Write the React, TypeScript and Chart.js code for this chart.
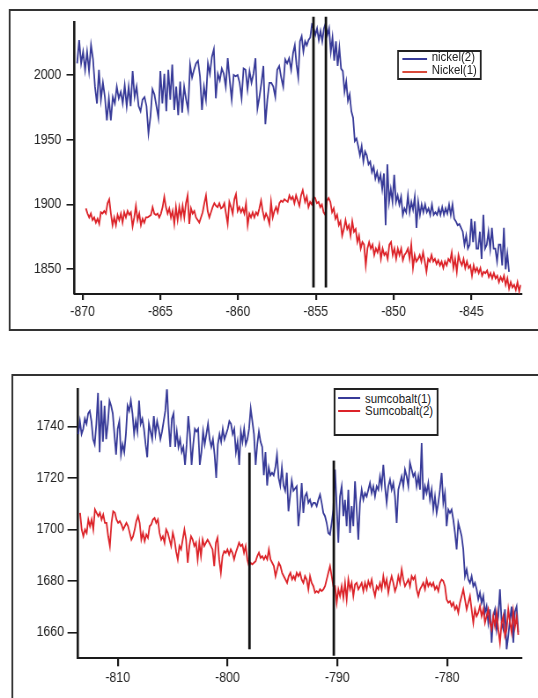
import React, { useEffect, useRef } from "react";
import { Chart, registerables } from "chart.js";

Chart.register(...registerables);

// ---------- data: top panel (nickel) ----------
const nickelXTicks = [-870, -865, -860, -855, -850, -845];
const nickelYTicks = [1850, 1900, 1950, 2000];
const nickelMarkerX = [-855.15, -854.35];
const nickelMarkerLow = [1836, 1836];
const nickelMarkerHigh = [2045, 2045];

// nickel(2), blue, first part: x from -870.35 to -856.46
const nickel2A = [
  2009, 2027, 2009, 2018, 2004, 2018, 2003, 2023, 2012, 1991, 1978, 2004, 1981, 1994, 1983, 1965,
  1982, 1965, 1983, 1978, 1991, 1982, 1987, 1978, 1992, 1976, 1991, 1976, 2003, 1983, 1991, 1976,
  1972, 1981, 1983, 1976, 1955, 1968, 1989, 1985, 1976, 1967, 2003, 1978, 2001, 1972, 2004, 1981,
  2008, 1973, 1991, 1969, 1995, 1971, 1991, 1981, 1973, 2008, 1998, 2004, 2009, 2011, 1999, 1973,
  1991, 1981, 2009, 2001, 2014, 2020, 1982, 2001, 1996, 2005, 2001, 1991, 2013, 1996, 1981, 2000,
  1999, 2000, 1994, 1982, 2005, 2004, 1989, 2003, 1994, 2001, 2013, 1974, 1983, 1994, 2007, 1962,
  1981, 1994, 1994, 1991, 1983, 2004, 2007, 1998, 1991, 2012, 2009, 2013, 2004, 2017,
];
const nickel2AX = [-870.35, -856.46];
// nickel(2), second part: x from -856.35 to -842.57
const nickel2B = [
  2023, 2008, 1998, 2026, 2030, 2018, 2026, 2023, 2027, 2029, 2039, 2036, 2031, 2036, 2027, 2034,
  2026, 2036, 2040, 2031, 2036, 2018, 2029, 2011, 2026, 2007, 2021, 2005, 2003, 1987, 1995, 1980,
  1985, 1972, 1967, 1949, 1951, 1945, 1938, 1945, 1933, 1941, 1938, 1931, 1933, 1925, 1929, 1920,
  1925, 1918, 1923, 1912, 1924, 1884, 1931, 1902, 1912, 1902, 1923, 1902, 1907, 1900, 1906, 1892,
  1897, 1894, 1907, 1894, 1902, 1896, 1906, 1882, 1902, 1892, 1900, 1894, 1900, 1894, 1897, 1892,
  1900, 1892, 1894, 1892, 1897, 1892, 1898, 1892, 1897, 1893, 1900, 1892, 1900, 1889, 1887, 1884,
  1885, 1882, 1879, 1869, 1876, 1866, 1869, 1889, 1871, 1887, 1866, 1866, 1879, 1858, 1892, 1866,
  1869, 1879, 1866, 1882, 1866, 1866, 1856, 1869, 1869, 1853, 1882, 1850, 1862, 1848,
];
const nickel2BX = [-856.35, -842.57];

// Nickel(1), red, first part: x from -869.79 to -855.84
const nickel1A = [
  1897, 1893, 1890, 1893, 1888, 1890, 1886, 1889, 1885, 1894, 1893, 1895, 1893, 1901, 1904, 1893,
  1884, 1890, 1884, 1892, 1888, 1893, 1886, 1894, 1890, 1895, 1892, 1894, 1883, 1890, 1899, 1888,
  1893, 1884, 1889, 1886, 1890, 1890, 1891, 1892, 1898, 1893, 1892, 1893, 1890, 1893, 1898, 1906,
  1898, 1893, 1897, 1890, 1895, 1885, 1898, 1888, 1898, 1890, 1899, 1890, 1901, 1907, 1885, 1897,
  1893, 1895, 1890, 1888, 1886, 1890, 1894, 1901, 1907, 1895, 1890, 1894, 1898, 1901, 1899, 1898,
  1901, 1897, 1898, 1901, 1893, 1885, 1902, 1898, 1893, 1904, 1908, 1895, 1898, 1894, 1897, 1893,
  1901, 1884, 1893, 1890, 1894, 1890, 1894, 1892, 1897, 1903, 1895, 1889, 1893, 1890, 1885, 1902,
  1890, 1895, 1898, 1894, 1901, 1903, 1902, 1904, 1903, 1902, 1907, 1904, 1906, 1901, 1907, 1903,
  1899, 1907, 1911,
];
const nickel1AX = [-869.79, -855.84];
// Nickel(1), second part: x from -855.69 to -841.81
const nickel1B = [
  1902, 1906, 1898, 1902, 1900, 1906, 1905, 1901, 1902, 1898, 1900, 1894, 1892, 1903, 1905, 1902,
  1894, 1897, 1889, 1892, 1884, 1887, 1876, 1881, 1888, 1881, 1884, 1876, 1887, 1879, 1881, 1871,
  1876, 1866, 1871, 1869, 1853, 1866, 1871, 1866, 1869, 1861, 1866, 1863, 1869, 1858, 1866, 1861,
  1863, 1858, 1869, 1871, 1861, 1866, 1858, 1866, 1861, 1866, 1857, 1861, 1863, 1866, 1858, 1869,
  1851, 1861, 1856, 1858, 1861, 1856, 1863, 1856, 1848, 1858, 1856, 1861, 1856, 1858, 1854, 1857,
  1853, 1856, 1851, 1856, 1853, 1858, 1856, 1863, 1851, 1858, 1848, 1861, 1856, 1853, 1858, 1851,
  1856, 1851, 1853, 1845, 1853, 1848, 1851, 1847, 1851, 1845, 1848, 1847, 1849, 1844, 1847, 1843,
  1847, 1843, 1845, 1840, 1844, 1841, 1845, 1838, 1843, 1835, 1840, 1836, 1838, 1834, 1840, 1833,
  1838,
];
const nickel1BX = [-855.69, -841.81];

// ---------- data: bottom panel (cobalt) ----------
const cobaltXTicks = [-810, -800, -790, -780];
const cobaltYTicks = [1660, 1680, 1700, 1720, 1740];
const cobaltMarkerX = [-798.0, -790.32];
const cobaltMarkerLow = [1653.4, 1650.9];
const cobaltMarkerHigh = [1729.8, 1726.7];

// sumcobalt(1), blue
const sumcobalt1A = [
  1737, 1742, 1737, 1739, 1743, 1741, 1745, 1746, 1742, 1735, 1733, 1741, 1753, 1730, 1750, 1734,
  1748, 1735, 1741, 1750, 1748, 1745, 1737, 1729, 1739, 1742, 1729, 1733, 1730, 1737, 1748, 1746,
  1750, 1745, 1737, 1742, 1738, 1750, 1741, 1743, 1739, 1733, 1728, 1741, 1738, 1735, 1744, 1737,
  1742, 1739, 1735, 1738, 1742, 1746, 1755, 1741, 1732, 1743, 1745, 1732, 1738, 1732, 1735, 1730,
  1732, 1725, 1733, 1744, 1737, 1725, 1733, 1739, 1738, 1739, 1725, 1730, 1738, 1733, 1737, 1741,
  1735, 1732, 1735, 1729, 1720, 1733, 1737, 1734, 1739, 1735, 1737, 1739, 1742, 1741, 1737, 1739,
  1730, 1734, 1725, 1738, 1734, 1739, 1733, 1735, 1739, 1747, 1742, 1737, 1725, 1733, 1738, 1734,
  1732, 1721, 1730, 1717, 1724, 1721, 1722, 1721, 1724, 1729, 1720, 1717, 1724, 1717, 1715, 1722,
  1707, 1713, 1719, 1715,
];
const sumcobalt1AX = [-813.59, -794.0];
const sumcobalt1B = [
  1716.7, 1701.2, 1707.7, 1718, 1706.4, 1712.8, 1714.1, 1710.3, 1711.5, 1709, 1710.3, 1710.3, 1709,
  1711.5, 1713.5, 1710.3, 1706.4, 1705.1, 1702.5, 1698.6, 1698, 1702.5, 1707.7, 1723.2, 1709, 1694.8,
  1712.8, 1716.7, 1705.1, 1711.5, 1701.2, 1715.4, 1698.6, 1709, 1701.2, 1718.7, 1707.7, 1696, 1710.3,
  1715.4, 1711.5, 1714.1, 1712.8, 1715.4, 1718, 1714.1, 1716.7, 1712.8, 1716.7, 1715.4, 1720.6, 1716.7,
  1725.1, 1716.7, 1710.3, 1716.7, 1719.3, 1715.4, 1718, 1712.8, 1702.5, 1715.4, 1718, 1720.6, 1716.7,
  1723.2, 1720.6, 1716.7, 1725.8, 1723.2, 1720.6, 1721.9, 1716.7, 1720.6, 1715.4, 1733.5, 1711.5,
  1716.7, 1714.1, 1718, 1711.5, 1715.4, 1707.7, 1712.8, 1706.4, 1710.3, 1715.4, 1721.9, 1710.3, 1714.1,
  1701.2, 1707.7, 1706.4, 1707.7, 1703.8, 1698.6, 1692.2, 1702.5, 1699.9, 1697.3, 1692.2, 1681.8,
  1684.4, 1680.5, 1679.2, 1681.8, 1677.9, 1679.2, 1676.7, 1672.8, 1675.4, 1671.5, 1674.1, 1667.6,
  1670.2, 1663.7, 1668.9, 1656, 1666.3, 1668.9, 1661.2, 1666.3, 1676.7, 1663.7, 1661.2, 1668.9, 1653.4,
  1658.6, 1665, 1670, 1656, 1668, 1670, 1660,
];
const sumcobalt1BX = [-793.7, -773.52];

// Sumcobalt(2), red
const sumcobalt2A = [
  1706.4, 1699.9, 1697.3, 1699.9, 1698.6, 1703.8, 1701.2, 1703.8, 1699.9, 1707.7, 1706.4, 1705.1,
  1706.4, 1703.8, 1705.7, 1702.5, 1702.5, 1697.3, 1693.5, 1702.5, 1707, 1706.4, 1703.8, 1702.5, 1703.2,
  1701.9, 1699.9, 1701.2, 1702.5, 1701.2, 1698.6, 1696, 1697.3, 1699.9, 1703.2, 1705.1, 1702.5, 1696,
  1698.6, 1695.4, 1698, 1696.7, 1701.2, 1701.9, 1703.8, 1704.4, 1702.5, 1703.8, 1698.6, 1696, 1697.3,
  1694.8, 1699.9, 1698.6, 1696, 1693.5, 1698.6, 1696, 1691.5, 1688.3, 1693.5, 1692.2, 1696, 1699.9,
  1696, 1687, 1693.5, 1697.3, 1696, 1693.5, 1694.8, 1688.3, 1694.8, 1689.6, 1696, 1693.5, 1694.8, 1696,
  1694.8, 1693.5, 1692.2, 1685.7, 1694.8, 1696.7, 1688.3, 1683.1, 1689.6, 1691.5, 1690.9, 1692.2,
  1690.2, 1692.2, 1690.9, 1688.3, 1690.9, 1692.8, 1694.8, 1693.5, 1694.1, 1690.9, 1693.5, 1688.3,
  1685.7, 1687, 1686.4, 1687, 1687.6, 1689.6, 1690.9, 1688.9, 1689.6, 1688.3, 1689.6, 1688.3, 1692.2,
  1688.3, 1687, 1685.7, 1681.8, 1684.4, 1687, 1685.7, 1683.1, 1681.8, 1680.5, 1679.2, 1681.8, 1683.1,
  1680.5, 1681.8,
];
const sumcobalt2AX = [-813.43, -793.97];
const sumcobalt2B = [
  1680.5, 1683.1, 1681.8, 1683.1, 1680.5, 1679.2, 1681.8, 1680.5, 1676.7, 1681.8, 1679.2, 1677.9,
  1675.4, 1676, 1675.4, 1676.7, 1676, 1676.7, 1677.9, 1680.5, 1683.1, 1685.7, 1681.8, 1677.9, 1677.9,
  1671.5, 1676.7, 1674.1, 1677.9, 1673.4, 1679.2, 1672.8, 1680.5, 1676.7, 1679.2, 1674.1, 1678.6,
  1679.2, 1676.7, 1677.9, 1679.2, 1676, 1679.2, 1676.7, 1679.9, 1677.9, 1680.5, 1676.7, 1674.1, 1677.9,
  1676.7, 1679.2, 1676.7, 1681.8, 1677.9, 1680.5, 1675.4, 1679.2, 1681.8, 1679.2, 1676, 1677.9, 1681.8,
  1679.2, 1684.4, 1680.5, 1677.9, 1679.2, 1680.5, 1677.9, 1681.8, 1680.5, 1681.8, 1676.7, 1674.1,
  1676.7, 1677.9, 1679.2, 1676.7, 1680.5, 1677.9, 1679.2, 1677.9, 1679.2, 1676.7, 1677.9, 1676, 1679.2,
  1680.5, 1679.9, 1677.9, 1672.8, 1671.5, 1672.1, 1670.2, 1671.5, 1668.9, 1670.2, 1667.6, 1671.5,
  1674.1, 1676.7, 1672.8, 1668.9, 1671.5, 1674.1, 1668.9, 1663.7, 1668.9, 1666.3, 1667.6, 1670.2,
  1666.3, 1668.9, 1663.7, 1666.3, 1668.9, 1663.7, 1661.2, 1666.3, 1662.4, 1667.6, 1661.2, 1656, 1663.7,
  1666.3, 1658.6, 1661.2, 1668.9, 1664, 1660, 1668, 1662, 1666, 1659,
];
const sumcobalt2BX = [-793.85, -773.52];

// ---------- layout ----------
const VIEW_W = 538;
const INNER_W = 611;
const SX = VIEW_W / INNER_W;
const FONT = "'Liberation Sans', Arial, Helvetica, sans-serif";
const BLUE = "#373a98";
const RED = "#dc2329";
const AXIS = "#1a1a1a";

type Pt = { x: number; y: number };
const spread = (vals: number[], range: number[]): Pt[] =>
  vals.map((y, i) => ({ x: range[0] + ((range[1] - range[0]) * i) / (vals.length - 1), y }));

interface SeriesDef {
  label: string;
  color: string;
  points: Pt[];
}

interface PanelProps {
  top: number;
  height: number;
  xMin: number;
  xMax: number;
  yMin: number;
  yMax: number;
  xTicks: number[];
  yTicks: number[];
  series: SeriesDef[];
  markerX: number[];
  markerLow: number[];
  markerHigh: number[];
  padTop: number;
  padRight: number;
  yAxisW: number;
  xAxisH: number;
  yTickLen: number;
  yTickPad: number;
  xTickLen: number;
  xTickPad: number;
}

function Panel(p: PanelProps) {
  const ref = useRef<HTMLCanvasElement | null>(null);
  useEffect(() => {
    const canvas = ref.current;
    if (!canvas) return;
    const datasets: any[] = p.series.map((s, i) => ({
      label: s.label,
      data: s.points,
      borderColor: s.color,
      backgroundColor: s.color,
      borderWidth: 1.8,
      pointRadius: 0,
      tension: 0,
      fill: false,
      order: 2 + (p.series.length - i),
    }));
    p.markerX.forEach((x, i) => {
      datasets.push({
        label: "marker" + i,
        data: [
          { x, y: p.markerLow[i] },
          { x, y: p.markerHigh[i] },
        ],
        borderColor: "#111",
        borderWidth: 2.8,
        pointRadius: 0,
        clip: false,
        order: 0,
      });
    });
    const tickFont = { family: FONT, size: 14 };
    const chart = new Chart(canvas, {
      type: "line",
      data: { datasets },
      options: {
        animation: false,
        responsive: false,
        maintainAspectRatio: false,
        events: [],
        layout: { padding: { top: p.padTop, right: p.padRight, bottom: 0, left: 0 } },
        plugins: { legend: { display: false }, tooltip: { enabled: false } },
        scales: {
          x: {
            type: "linear",
            min: p.xMin,
            max: p.xMax,
            afterFit: (s: any) => {
              s.height = p.xAxisH;
            },
            afterBuildTicks: (s: any) => {
              s.ticks = p.xTicks.map((v) => ({ value: v }));
            },
            grid: {
              drawOnChartArea: false,
              drawTicks: true,
              tickLength: p.xTickLen,
              lineWidth: 2.2,
              color: AXIS,
            },
            border: { display: true, width: 2, color: AXIS },
            ticks: {
              padding: p.xTickPad,
              font: tickFont,
              color: "#222",
              maxRotation: 0,
              autoSkip: false,
              callback: (v: any) => String(v),
            },
          },
          y: {
            type: "linear",
            min: p.yMin,
            max: p.yMax,
            afterFit: (s: any) => {
              s.width = p.yAxisW;
            },
            afterBuildTicks: (s: any) => {
              s.ticks = p.yTicks.map((v) => ({ value: v }));
            },
            grid: {
              drawOnChartArea: false,
              drawTicks: true,
              tickLength: p.yTickLen,
              lineWidth: 1.6,
              color: AXIS,
            },
            border: { display: true, width: 2.6, color: AXIS },
            ticks: {
              padding: p.yTickPad,
              font: tickFont,
              color: "#222",
              autoSkip: false,
              callback: (v: any) => String(v),
            },
          },
        },
      },
    });
    return () => chart.destroy();
  }, []);
  return (
    <canvas
      ref={ref}
      width={INNER_W}
      height={p.height}
      style={{ position: "absolute", left: 0, top: p.top, width: INNER_W, height: p.height }}
    />
  );
}

const px = (cssX: number) => cssX / SX;

function LegendBox(props: {
  left: number;
  top: number;
  width: number;
  height: number;
  lineLeft: number;
  lineWidth: number;
  textLeft: number;
  rows: { label: string; color: string; lineY: number; textTop: number }[];
}) {
  const { left, top, width, height, rows } = props;
  return (
    <>
      <div
        style={{
          position: "absolute",
          left,
          top,
          width,
          height,
          boxSizing: "border-box",
          border: "2px solid #222",
          background: "#fff",
        }}
      />
      {rows.map((r) => (
        <React.Fragment key={r.label}>
          <div
            style={{
              position: "absolute",
              left: props.lineLeft,
              top: r.lineY - 1,
              width: props.lineWidth,
              height: 2,
              background: r.color,
            }}
          />
          <div
            style={{
              position: "absolute",
              left: props.textLeft,
              top: r.textTop,
              fontFamily: FONT,
              fontSize: 13,
              lineHeight: "13px",
              color: "#222",
              whiteSpace: "nowrap",
            }}
          >
            {r.label}
          </div>
        </React.Fragment>
      ))}
    </>
  );
}

export default function App() {
  const topSeries: SeriesDef[] = [
    { label: "nickel(2)", color: BLUE, points: [...spread(nickel2A, nickel2AX), ...spread(nickel2B, nickel2BX)] },
    { label: "Nickel(1)", color: RED, points: [...spread(nickel1A, nickel1AX), ...spread(nickel1B, nickel1BX)] },
  ];
  const bottomSeries: SeriesDef[] = [
    {
      label: "sumcobalt(1)",
      color: BLUE,
      points: [...spread(sumcobalt1A, sumcobalt1AX), ...spread(sumcobalt1B, sumcobalt1BX)],
    },
    {
      label: "Sumcobalt(2)",
      color: RED,
      points: [...spread(sumcobalt2A, sumcobalt2AX), ...spread(sumcobalt2B, sumcobalt2BX)],
    },
  ];

  return (
    <div
      style={{
        position: "fixed",
        left: 0,
        top: 0,
        width: VIEW_W,
        height: 698,
        overflow: "hidden",
        background: "#fff",
      }}
    >
      <div
        style={{
          position: "absolute",
          left: 0,
          top: 0,
          width: INNER_W,
          height: 698,
          transform: `scaleX(${SX})`,
          transformOrigin: "0 0",
        }}
      >
        {/* frames */}
        <div
          style={{
            position: "absolute",
            left: px(9),
            top: 9,
            width: 700,
            height: 322,
            boxSizing: "border-box",
            border: "2px solid #333",
          }}
        />
        <div
          style={{
            position: "absolute",
            left: px(11.3),
            top: 374.3,
            width: 700,
            height: 400,
            boxSizing: "border-box",
            border: "2px solid #333",
          }}
        />

        <Panel
          top={0}
          height={340}
          xMin={-870.52}
          xMax={-841.8}
          yMin={1830.9}
          yMax={2040.4}
          xTicks={nickelXTicks}
          yTicks={nickelYTicks}
          series={topSeries}
          markerX={nickelMarkerX}
          markerLow={nickelMarkerLow}
          markerHigh={nickelMarkerHigh}
          padTop={22.7}
          padRight={INNER_W - px(521)}
          yAxisW={px(74.5)}
          xAxisH={340 - 294}
          yTickLen={px(8)}
          yTickPad={px(5.2)}
          xTickLen={6}
          xTickPad={3.3}
        />
        <Panel
          top={360}
          height={338}
          xMin={-813.66}
          xMax={-773.27}
          yMin={1649.9}
          yMax={1754.4}
          xTicks={cobaltXTicks}
          yTicks={cobaltYTicks}
          series={bottomSeries}
          markerX={cobaltMarkerX}
          markerLow={cobaltMarkerLow}
          markerHigh={cobaltMarkerHigh}
          padTop={389.3 - 360}
          padRight={INNER_W - px(521)}
          yAxisW={px(77.5)}
          xAxisH={698 - 658.3}
          yTickLen={px(10)}
          yTickPad={px(3.5)}
          xTickLen={8}
          xTickPad={3.6}
        />

        <LegendBox
          left={px(397.3)}
          top={49.5}
          width={px(481.7) - px(397.3)}
          height={30.5}
          lineLeft={px(402.7)}
          lineWidth={px(426.7) - px(402.7)}
          textLeft={px(431.7)}
          rows={[
            { label: "nickel(2)", color: BLUE, lineY: 59, textTop: 50.4 },
            { label: "Nickel(1)", color: "#d94a3a", lineY: 72, textTop: 62.9 },
          ]}
        />
        <LegendBox
          left={px(333.6)}
          top={388.3}
          width={px(438.6) - px(333.6)}
          height={47.4}
          lineLeft={px(338.3)}
          lineWidth={px(360) - px(338.3)}
          textLeft={px(365)}
          rows={[
            { label: "sumcobalt(1)", color: BLUE, lineY: 398.3, textTop: 391.7 },
            { label: "Sumcobalt(2)", color: RED, lineY: 411, textTop: 403.6 },
          ]}
        />
      </div>
    </div>
  );
}
